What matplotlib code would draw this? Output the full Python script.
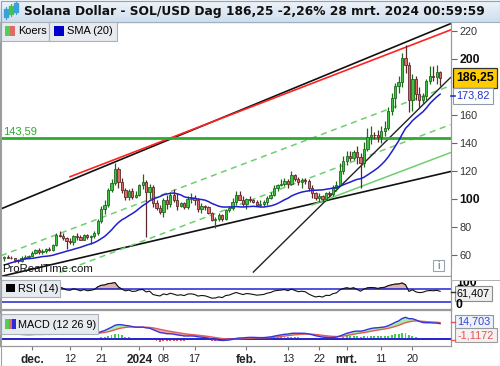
import numpy as np
import pandas as pd
import matplotlib
matplotlib.use("Agg")
import matplotlib.pyplot as plt
from matplotlib.patches import Rectangle
from matplotlib.transforms import blended_transform_factory

plt.rcParams["font.family"] = ["Liberation Sans", "DejaVu Sans"]

# ---------------------------------------------------------------- data
# closes before the visible window (only used to warm up SMA / RSI / MACD)
warmup_close = [
    32.0, 32.3, 32.0, 33.2, 35.0, 36.2, 38.0,
    39.5, 40.0, 39.2, 42.0, 41.2, 43.0, 42.3, 43.2, 45.5, 55.5, 57.0,
    56.2, 54.0, 52.8, 61.0, 57.3, 58.0, 59.5, 60.0, 58.2, 54.2, 57.5,
]

dates = pd.date_range("2023-11-23", "2024-03-28", freq="D")

open_ = [
    57.5, 58.5, 58.0, 57.5, 56.5, 55.5, 58.0, 58.5,
    59.5, 61.5, 63.5, 62.0, 63.0, 64.5, 63.5, 67.0, 74.5, 73.5, 72.0, 70.0,
    69.5, 73.5, 72.5, 71.0, 74.0, 72.5, 73.5, 75.5, 84.5, 93.0, 95.5, 106.5,
    111.5, 121.5, 112.0, 106.5, 101.5, 105.5, 101.5,
    103.0, 110.0, 112.0, 105.0, 108.5, 97.0, 93.5, 91.0, 99.5, 96.5, 103.0,
    99.5, 95.0, 97.0, 94.0, 100.0, 101.0, 99.0, 93.0, 95.0, 94.0, 90.0,
    85.0, 85.5, 88.5, 86.0, 92.0, 93.5, 98.0, 102.5, 99.5,
    96.5, 100.0, 99.0, 97.5, 95.5, 96.5, 97.5, 101.0, 103.0, 108.0, 110.0,
    111.0, 113.0, 111.0, 117.0, 114.5, 112.0, 113.5, 112.5, 108.0, 104.0,
    100.5, 102.0, 100.0, 104.0, 103.5, 108.0, 110.0, 120.0,
    127.0, 131.0, 129.5, 133.5, 130.0, 126.0, 136.0, 144.0, 146.0, 145.5,
    144.0, 148.5, 151.0, 163.0, 172.0, 181.0, 183.5, 201.0, 196.0, 171.0,
    186.0, 175.0, 171.0, 173.5, 184.0, 188.0, 187.0, 190.5,
]
high_ = [
    59.5, 60.0, 59.5, 58.0, 57.0, 59.0, 60.0, 60.0,
    62.5, 64.0, 65.0, 64.5, 65.0, 66.0, 68.0, 76.0, 77.0, 75.5, 73.0, 72.0,
    74.0, 75.5, 74.0, 75.0, 75.0, 74.0, 77.0, 86.0, 95.0, 99.0, 108.0, 114.0,
    126.0, 123.0, 115.0, 108.0, 107.0, 107.5, 106.0,
    111.0, 118.0, 113.5, 111.0, 110.0, 99.0, 96.0, 101.0, 103.0, 105.0,
    107.0, 104.0, 98.0, 98.0, 102.0, 104.0, 103.0, 101.0, 97.0, 96.0, 95.0,
    91.0, 87.0, 90.0, 89.0, 93.0, 95.0, 101.0, 106.0, 106.0, 102.0,
    101.0, 102.0, 100.0, 99.0, 99.0, 99.0, 102.0, 105.0, 110.0, 111.0,
    114.0, 115.0, 114.0, 120.0, 118.0, 116.0, 115.0, 115.0, 114.0, 110.0,
    105.0, 104.0, 103.0, 105.0, 105.5, 110.0, 113.0, 126.0, 131.0,
    134.0, 134.0, 135.0, 138.0, 133.0, 141.0, 151.0, 152.0, 148.0, 149.0,
    152.0, 156.0, 166.0, 176.0, 183.0, 188.0, 204.0, 210.0, 198.0, 189.0,
    188.0, 180.0, 176.0, 186.0, 195.0, 195.0, 196.0, 191.5,
]
low_ = [
    56.0, 57.5, 57.0, 55.0, 54.0, 55.0, 57.0, 58.0,
    59.0, 61.0, 61.0, 60.5, 61.5, 62.5, 63.0, 66.5, 72.5, 71.0, 64.0, 67.5,
    67.0, 71.0, 70.5, 70.5, 71.5, 68.0, 72.0, 74.5, 83.0, 89.0, 94.5, 105.0,
    110.0, 108.0, 104.0, 99.0, 99.0, 100.0, 100.5,
    102.0, 107.0, 73.0, 100.0, 94.0, 92.0, 89.0, 87.0, 93.0, 94.0, 98.0,
    92.0, 94.0, 93.0, 93.0, 97.0, 96.0, 91.0, 90.0, 92.0, 89.0, 84.0,
    79.0, 84.0, 84.0, 85.0, 91.0, 92.0, 96.0, 99.0, 95.0,
    93.0, 98.0, 97.0, 95.0, 94.0, 95.0, 96.0, 100.0, 102.0, 106.0, 109.0,
    109.0, 108.0, 110.0, 113.0, 110.0, 108.0, 111.0, 106.0, 101.0, 99.0,
    98.0, 98.5, 99.0, 102.0, 102.0, 106.0, 109.0, 118.0,
    124.0, 127.0, 128.0, 125.0, 108.0, 123.0, 134.0, 139.0, 143.0, 141.0,
    140.0, 145.0, 149.0, 160.0, 165.0, 176.0, 180.0, 190.0, 162.0, 163.0,
    171.0, 165.0, 168.0, 171.0, 182.0, 184.0, 182.0, 181.0,
]
close_ = [
    58.5, 58.0, 57.5, 56.5, 55.5, 58.0, 58.5, 59.5,
    61.5, 63.5, 62.0, 63.0, 64.5, 63.5, 67.0, 74.5, 73.5, 72.0, 70.0, 69.5,
    73.5, 72.5, 71.0, 74.0, 72.5, 73.5, 75.5, 84.5, 93.0, 95.5, 106.5, 111.5,
    121.5, 112.0, 106.5, 101.5, 105.5, 101.5, 103.0,
    110.0, 112.0, 105.0, 108.5, 97.0, 93.5, 91.0, 99.5, 96.5, 103.0, 99.5,
    95.0, 97.0, 94.0, 100.0, 101.0, 99.0, 93.0, 95.0, 94.0, 90.0, 85.0,
    85.5, 88.5, 86.0, 92.0, 93.5, 98.0, 102.5, 99.5, 96.5,
    100.0, 99.0, 97.5, 95.5, 96.5, 97.5, 101.0, 103.0, 108.0, 110.0, 111.0,
    113.0, 111.0, 117.0, 114.5, 112.0, 113.5, 112.5, 108.0, 104.0, 100.5,
    102.0, 100.0, 104.0, 103.5, 108.0, 110.0, 120.0, 127.0,
    131.0, 129.5, 133.5, 130.0, 126.0, 136.0, 144.0, 146.0, 145.5, 144.0,
    148.5, 151.0, 163.0, 172.0, 181.0, 183.5, 201.0, 196.0, 171.0, 186.0,
    175.0, 171.0, 173.5, 184.0, 188.0, 187.0, 190.5, 186.25,
]

level_price = 143.59

# trend lines: (start date, end date), (start price, end price)
upper_black = (("2023-11-22", "2024-03-31"), (92.9, 225.2))
upper_red = (("2023-12-12", "2024-03-31"), (115.9, 220.7))
lower_black = (("2023-11-22", "2024-03-31"), (44.7, 119.6))
upper_dashed = (("2023-11-22", "2024-03-31"), (59.5, 180.9))
lower_dashed = (("2023-12-09", "2024-03-31"), (47.5, 153.1))
steep_black = (("2024-02-03", "2024-03-31"), (47.8, 186.7))
thin_green = (("2024-02-20", "2024-03-31"), (95.7, 133.1))

x_tick_dates = ["2023-12-01", "2023-12-12", "2023-12-21", "2024-01-01",
                "2024-01-08", "2024-01-17", "2024-02-01", "2024-02-13",
                "2024-02-22", "2024-03-01", "2024-03-11", "2024-03-20"]
x_tick_labels = ["dec.", "12", "21", "2024", "08", "17", "feb.", "13",
                 "22", "mrt.", "11", "20"]
bold_x_labels = {"dec.", "2024", "feb.", "mrt."}

price_ticks = [60, 80, 100, 120, 140, 160, 200, 220]
bold_price_ticks = {100, 200}

title = "Solana Dollar - SOL/USD Dag 186,25 -2,26% 28 mrt. 2024 00:59:59"
last_price_text = "186,25"
sma_text = "173,82"
rsi_text = "61,407"
macd_text = "14,703"
hist_text = "-1,1172"
level_text = "143,59"

# ---------------------------------------------------------- indicators
REF = pd.Timestamp("2023-12-01")


def day(d):
    return (pd.Timestamp(d) - REF) / pd.Timedelta(days=1)


x = np.array([day(d) for d in dates])
n_warm = len(warmup_close)
all_close = pd.Series(warmup_close + close_)

sma = all_close.rolling(20).mean().to_numpy()[n_warm:]

delta = all_close.diff()
gain = delta.clip(lower=0).ewm(alpha=1 / 14, adjust=False).mean()
loss = (-delta.clip(upper=0)).ewm(alpha=1 / 14, adjust=False).mean()
rsi = (100 - 100 / (1 + gain / loss)).to_numpy()[n_warm:]

ema12 = all_close.ewm(span=12, adjust=False).mean()
ema26 = all_close.ewm(span=26, adjust=False).mean()
macd_all = ema12 - ema26
signal_all = macd_all.ewm(span=9, adjust=False).mean()
macd = macd_all.to_numpy()[n_warm:]
signal = signal_all.to_numpy()[n_warm:]
hist = macd - signal

o = np.array(open_)
h = np.array(high_)
lo = np.array(low_)
c = np.array(close_)

# --------------------------------------------------------------- figure
W, H = 500, 366
fig = plt.figure(figsize=(W / 100, H / 100), dpi=100)


def box(x0, y0, x1, y1):
    return [x0 / W, 1 - y1 / H, (x1 - x0) / W, (y1 - y0) / H]


ax = fig.add_axes(box(0, 22, 451, 276))
ax_rsi = fig.add_axes(box(0, 277, 451, 309), sharex=ax)
ax_macd = fig.add_axes(box(0, 310, 451, 346), sharex=ax)

for a in (ax, ax_rsi, ax_macd):
    for s in a.spines.values():
        s.set_color("#9a9a9a")
        s.set_linewidth(0.9)
    a.tick_params(axis="x", which="both", bottom=False, labelbottom=False)

ax.set_xlim(-9.25, 121.15)
ax.set_ylim(45.0, 226.4)

# trend lines
for (d0, d1), (p0, p1), col, ls, lw in [
    (upper_black[0], upper_black[1], "#111111", "-", 1.2),
    (upper_red[0], upper_red[1], "#ff2222", "-", 1.2),
    (lower_black[0], lower_black[1], "#111111", "-", 1.2),
    (upper_dashed[0], upper_dashed[1], "#6fcf6f", (0, (4, 3)), 1.1),
    (lower_dashed[0], lower_dashed[1], "#6fcf6f", (0, (4, 3)), 1.1),
    (steep_black[0], steep_black[1], "#222222", "-", 1.0),
    (thin_green[0], thin_green[1], "#6fcf6f", "-", 1.1),
]:
    ax.plot([day(d0), day(d1)], [p0, p1], color=col, linestyle=ls,
            linewidth=lw, zorder=2)

ax.axhline(level_price, color="#2eaa2e", linewidth=2.0, zorder=2)
ax.text(0.006, level_price + 1.2, level_text, color="#2eaa2e", fontsize=8,
        transform=blended_transform_factory(ax.transAxes, ax.transData),
        va="bottom", ha="left")

# candles
up = c >= o
body_col = np.where(up, "#3ec43e", "#e36a6a")
edge_col = np.where(up, "#1d6a1d", "#5c2a2a")
ax.vlines(x, lo, h, colors=edge_col, linewidth=0.9, zorder=3)
ax.bar(x, np.maximum(np.abs(c - o), 0.5), bottom=np.minimum(o, c),
       width=0.66, color=body_col, edgecolor=edge_col, linewidth=0.6,
       zorder=4)

ax.plot(x, sma, color="#1f1fcc", linewidth=1.1, zorder=5)

ax.yaxis.tick_right()
ax.set_yticks(price_ticks)
ax.set_yticklabels([str(t) for t in price_ticks])
ax.tick_params(axis="y", direction="out", length=4, pad=2, labelsize=7.8,
               colors="#666666", labelcolor="#333333")
for t, lab in zip(price_ticks, ax.get_yticklabels()):
    if t in bold_price_ticks:
        lab.set_fontweight("bold")
        lab.set_fontsize(8.8)
        lab.set_color("#111111")

ax.text(0.004, 0.008, "ProRealTime.com", transform=ax.transAxes,
        fontsize=8.2, color="#111111", va="bottom", ha="left", zorder=6)

# RSI panel
ax_rsi.set_ylim(6.3, 107.8)
ax_rsi.set_yticks([])
ax_rsi.spines["top"].set_visible(False)
ax_rsi.fill_between(x, 70, rsi, where=rsi > 70, interpolate=True,
                    color="#d9b5ae", edgecolor="#8a5a55", linewidth=0.5)
ax_rsi.axhline(70, color="#2323d0", linewidth=1.1)
ax_rsi.axhline(30, color="#2323d0", linewidth=1.1)
ax_rsi.plot(x, rsi, color="#111111", linewidth=0.8)

# MACD panel
k = 21.2 / np.nanmax(macd)
ax_macd.set_ylim(-7.5 / k, 28.5 / k)
ax_macd.set_yticks([])
ax_macd.fill_between(x, macd, signal, where=macd >= signal, interpolate=True,
                     color="#a6eea6", linewidth=0)
ax_macd.fill_between(x, macd, signal, where=macd < signal, interpolate=True,
                     color="#f2a9a9", linewidth=0)
ax_macd.bar(x, hist, width=0.55, color=np.where(hist >= 0, "#3fcf3f", "#e85555"),
            linewidth=0)
ax_macd.axhline(0, color="#2323d0", linewidth=1.4)
ax_macd.plot(x, signal, color="#e25a5a", linewidth=1.0)
ax_macd.plot(x, macd, color="#3434e0", linewidth=1.0)

ax_macd.set_xticks([day(d) for d in x_tick_dates])
ax_macd.set_xticklabels(x_tick_labels)
ax_macd.tick_params(axis="x", bottom=True, labelbottom=True, direction="out",
                    length=3, pad=3, labelsize=7.8, colors="#777777",
                    labelcolor="#222222")
for lab in ax_macd.get_xticklabels():
    if lab.get_text() in bold_x_labels:
        lab.set_fontweight("bold")
        lab.set_fontsize(8.5)

# --------------------------------------------------- overlay decorations
ov = fig.add_axes([0, 0, 1, 1])
ov.set_xlim(0, W)
ov.set_ylim(H, 0)
ov.axis("off")
ov.set_zorder(10)

grad = np.linspace(0, 1, 22).reshape(-1, 1)
ov.imshow(grad, extent=(0, W, 22, 0), cmap=matplotlib.colors.LinearSegmentedColormap.from_list(
    "hdr", ["#eef4fa", "#cfdeee"]), aspect="auto", zorder=1)
ov.plot([0, W], [21.5, 21.5], color="#9fb0c2", linewidth=0.8, zorder=2)
for cx, y0, y1, col in [(6, 9, 17, "#3aa0e0"), (11, 6, 14, "#47c047"),
                        (16, 3, 12, "#3aa0e0")]:
    ov.plot([cx, cx], [y0 - 2, y1 + 2], color=col, linewidth=0.8, zorder=3)
    ov.add_patch(Rectangle((cx - 1.6, y0), 3.2, y1 - y0, facecolor=col,
                           edgecolor=col, zorder=3))
ov.text(24, 11.5, title, fontsize=8.85, fontweight="bold", color="#111111",
        family="DejaVu Sans", va="center", ha="left", zorder=3)

# legend chips
for (bx0, bx1, by0, by1) in [(0, 49, 22, 40.5), (49, 117, 22, 40.5),
                             (0, 60, 280, 296.5), (0, 98, 314, 334)]:
    ov.add_patch(Rectangle((bx0, by0), bx1 - bx0, by1 - by0, facecolor="#e7ebef",
                           edgecolor="#a9b1b9", linewidth=0.8, zorder=3))
ov.add_patch(Rectangle((5, 26), 5, 10, facecolor="#55cc55", linewidth=0, zorder=4))
ov.add_patch(Rectangle((10, 26), 5, 10, facecolor="#e06a6a", linewidth=0, zorder=4))
ov.text(18, 31.5, "Koers", fontsize=7.9, va="center", ha="left", zorder=4)
ov.add_patch(Rectangle((54, 26), 10, 10, facecolor="#0000c8", linewidth=0, zorder=4))
ov.text(67, 31.5, "SMA (20)", fontsize=7.9, va="center", ha="left", zorder=4)
ov.add_patch(Rectangle((6, 284), 9, 8, facecolor="#000000", linewidth=0, zorder=4))
ov.text(18, 288.5, "RSI (14)", fontsize=7.8, va="center", ha="left", zorder=4)
for sx, col in [(5, "#55cc55"), (8.5, "#e06a6a"), (12, "#2b2bd8")]:
    ov.add_patch(Rectangle((sx, 319), 3.5, 10, facecolor=col, linewidth=0, zorder=4))
ov.text(18, 324.5, "MACD (12 26 9)", fontsize=7.8, va="center", ha="left", zorder=4)

# info icon
ov.add_patch(Rectangle((433, 260), 11, 11, facecolor="white", edgecolor="#9aa4ae",
                       linewidth=0.8, zorder=4))
ov.text(438.5, 265.8, "i", fontsize=7, fontweight="bold", color="#8a949e",
        ha="center", va="center", zorder=5)

# value boxes on the right axis
ov.add_patch(Rectangle((453, 68), 44, 19.5, facecolor="#ffcc00", edgecolor="#333333",
                       linewidth=0.9, zorder=4))
ov.text(475, 78, last_price_text, fontsize=8.8, fontweight="bold", ha="center",
        va="center", zorder=5)
ov.add_patch(Rectangle((453, 87.5), 40, 16.5, facecolor="white", edgecolor="#8f9aaa",
                       linewidth=0.8, zorder=4))
ov.text(473, 96, sma_text, fontsize=7.8, color="#2233cc", ha="center",
        va="center", zorder=5)
ov.plot([451, 455], [95.5, 95.5], color="#2233cc", linewidth=1.2, zorder=5)

# RSI scale labels ("100" is partly hidden under the panel edge)
ov.text(456, 283.0, "100", fontsize=8.8, fontweight="bold", ha="left",
        va="center", zorder=3)
ov.add_patch(Rectangle((451.5, 268), 48, 11.5, facecolor="white", linewidth=0, zorder=3.5))
ov.plot([451, W], [279.5, 279.5], color="#b0b0b0", linewidth=0.7, zorder=3.6)
ov.text(456, 305.5, "0", fontsize=8.8, fontweight="bold", ha="left",
        va="center", zorder=5)
ov.add_patch(Rectangle((455, 285.5), 37, 15.5, facecolor="#efefef", edgecolor="#8c8c8c",
                       linewidth=0.8, zorder=4))
ov.text(473.5, 293.2, rsi_text, fontsize=7.8, ha="center", va="center", zorder=5)
ov.plot([451, 455], [292, 292], color="#333333", linewidth=1.0, zorder=5)

ov.add_patch(Rectangle((455, 315), 38, 14, facecolor="#eef2f8", edgecolor="#8c96aa",
                       linewidth=0.8, zorder=4))
ov.text(474, 322, macd_text, fontsize=7.8, color="#3344dd", ha="center",
        va="center", zorder=5)
ov.add_patch(Rectangle((455, 328), 42, 14, facecolor="#f5f1f1", edgecolor="#9a9a9a",
                       linewidth=0.8, zorder=4.5))
ov.text(476, 335, hist_text, fontsize=7.8, color="#e05555", ha="center",
        va="center", zorder=5)
ov.plot([451, 455], [322, 322], color="#e05555", linewidth=1.0, zorder=5)
ov.plot([451, 455], [340, 340], color="#e05555", linewidth=1.0, zorder=5)

# outer frame
ov.add_patch(Rectangle((0.5, 0.5), W - 1, H - 1, facecolor="none", edgecolor="#a0a0a0",
                       linewidth=0.8, zorder=6))

fig.savefig("out.png", dpi=100)
plt.close(fig)
